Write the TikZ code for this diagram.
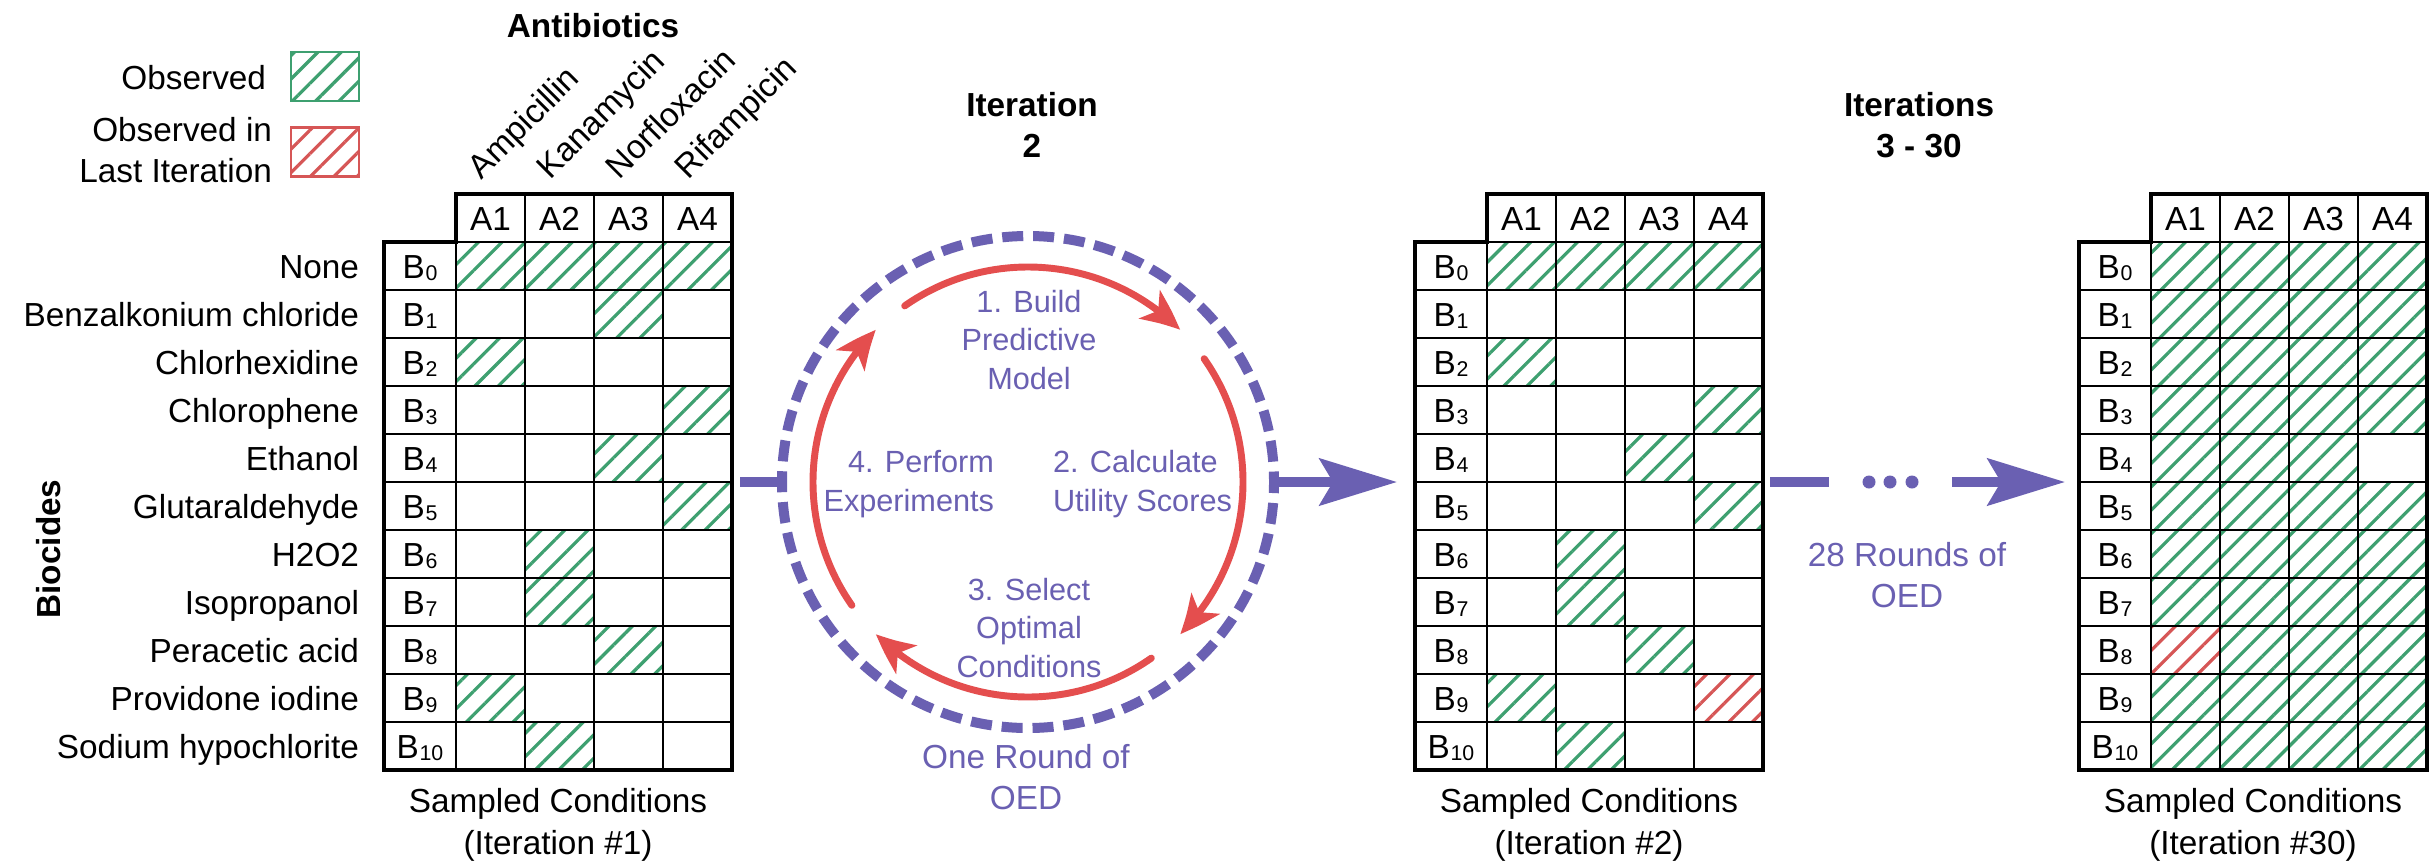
\documentclass[tikz,border=0pt]{standalone}
\usepackage{fontspec}
\setmainfont{Liberation Sans}
\usetikzlibrary{arrows.meta,bending,patterns.meta}

\definecolor{obsgreen}{RGB}{62,160,112}
\definecolor{lastred}{RGB}{214,86,86}
\definecolor{oedpurple}{RGB}{106,96,178}
\definecolor{loopred}{RGB}{228,78,78}

% biocide index: B with a smaller, slightly lowered number
\newcommand\bidx[1]{B\kern0.02em\raisebox{-0.06em}{\fontsize{16}{16}\selectfont #1}}

% one hatched cell: style, grid left x, row, column
\newcommand\hatchcell[4]{\path[#1] ({#2+72+69*(#4-1)},{242+48*(#3)}) rectangle ++(69,48);}

\tikzset{
  every node/.style={inner sep=0pt, outer sep=0pt, font=\fontsize{25}{31}\selectfont},
  title/.style={font=\fontsize{25}{31}\selectfont\bfseries, align=center},
  steptext/.style={font=\fontsize{23}{29}\selectfont, text=oedpurple},
  oedtext/.style={font=\fontsize{25}{31}\selectfont, text=oedpurple, align=center},
  gridinner/.style={line width=2pt},
  gridouter/.style={line width=3.2pt, line join=miter},
  obs/.style={pattern={Lines[angle=45,distance=12.4pt,line width=2.4pt]}, pattern color=obsgreen},
  lastobs/.style={pattern={Lines[angle=45,distance=12.4pt,line width=2.4pt]}, pattern color=lastred},
  looparrow/.style={draw=loopred, line width=5.2pt, line cap=round, -{Stealth[length=30pt,width=26pt,inset=8pt,bend]}},
  purbar/.style={draw=oedpurple, line width=7.5pt},
  purarrow/.style={purbar, -{Stealth[length=58pt,width=35pt,inset=10pt]}},
  purdot/.style={circle, fill=oedpurple, minimum size=9.75pt},
  legbox/.style={minimum width=51pt, minimum height=37pt, line width=1.8pt},
}

% grid of sampled conditions: name prefix, left x
\newcommand\conditiongrid[2]{%
  \begin{scope}[shift={(#2,0)}]
    \foreach \j in {1,2,3} \draw[gridinner] ({72+69*\j},194) -- ({72+69*\j},770);
    \foreach \i in {1,...,10} \draw[gridinner] (0,{242+48*\i}) -- (348,{242+48*\i});
    \draw[gridinner] (72,242) -- (72,770);
    \draw[gridinner] (72,242) -- (348,242);
    \draw[gridouter] (72,194) -- (348,194) -- (348,770) -- (0,770) -- (0,242) -- (72,242) -- cycle;
    \foreach \j in {1,...,4} \node[anchor=base] (#1-a\j) at ({37.5+69*\j},230) {A\j};
    \foreach \i in {0,...,10} \node[anchor=base] (#1-b\i) at (36,{278+48*\i}) {\bidx{\i}};
  \end{scope}}

\begin{document}
\begin{tikzpicture}[x=0.75pt, y=-0.75pt]
\useasboundingbox (0,0) rectangle (2433,861);
\fill[white] (0,0) rectangle (2433,861);

% observed conditions, iteration 1
\foreach \r/\c in {0/1,0/2,0/3,0/4,1/3,2/1,3/4,4/3,5/4,6/2,7/2,8/3,9/1,10/2} {\hatchcell{obs}{384}{\r}{\c}}
% iteration 2
\foreach \r/\c in {0/1,0/2,0/3,0/4,2/1,3/4,4/3,5/4,6/2,7/2,8/3,9/1,10/2} {\hatchcell{obs}{1415}{\r}{\c}}
\hatchcell{lastobs}{1415}{9}{4}
% iteration 30
\foreach \r in {0,1,2,3,5,6,7,9,10} {\foreach \c in {1,...,4} {\hatchcell{obs}{2079}{\r}{\c}}}
\foreach \c in {1,2,3} {\hatchcell{obs}{2079}{4}{\c}}
\foreach \c in {2,3,4} {\hatchcell{obs}{2079}{8}{\c}}
\hatchcell{lastobs}{2079}{8}{1}

\conditiongrid{g1}{384}
\conditiongrid{g2}{1415}
\conditiongrid{g3}{2079}

% axis labels
\node[title, anchor=base] (abx-title) at (593,37) {Antibiotics};
\node[title, rotate=90] (bio-title) at (49,549) {Biocides};
\foreach \t [count=\j] in {Ampicillin,Kanamycin,Norfloxacin,Rifampicin}
  \node[anchor=base west, rotate=45] (abx-\j) at ({412.5+69*\j},180) {\t};
\foreach \t [count=\i from 0] in {None,Benzalkonium chloride,Chlorhexidine,Chlorophene,Ethanol,Glutaraldehyde,H2O2,Isopropanol,Peracetic acid,Providone iodine,Sodium hypochlorite}
  \node[anchor=base east] (bio-\i) at (359,{278+48*\i}) {\t};

% legend
\node[anchor=base east] (leg-obs-text) at (266,89) {Observed};
\node[align=right, anchor=east] (leg-last-text) at (272,150) {Observed in\\Last Iteration};
\node[legbox, draw=obsgreen, obs] (leg-obs) at (325,76.5) {};
\node[legbox, draw=lastred, lastobs] (leg-last) at (325,152) {};

% captions
\node[align=center] (cap-1) at (558,825) {Sampled Conditions\\(Iteration \#1)};
\node[align=center] (cap-2) at (1589,825) {Sampled Conditions\\(Iteration \#2)};
\node[align=center] (cap-3) at (2253,825) {Sampled Conditions\\(Iteration \#30)};
\node[title] (iter-2) at (1032,125) {Iteration\\2};
\node[title] (iter-rest) at (1919,125) {Iterations\\3 - 30};

% one round of OED
\node[circle, draw=oedpurple, line width=7.5pt, dash pattern=on 15.75pt off 7.43pt, dash phase=7.9pt, minimum size=369pt] (oed) at (1028,482) {};
\foreach \a in {-125,-35,55,145}
  \draw[looparrow] ([shift={(\a:215)}]oed.center) arc[start angle=\a, delta angle=80, radius=215];
\node[steptext, align=center] (step-1) at (1029,340) {1. Build\\Predictive\\Model};
\node[steptext, align=left, anchor=west] (step-2) at (1053,484) {2. Calculate\\Utility Scores};
\node[steptext, align=center] (step-3) at (1029,628) {3. Select\\Optimal\\Conditions};
\node[steptext, align=right, anchor=east] (step-4) at (994,484) {4. Perform\\Experiments};
\node[oedtext] (one-round) at (1026,777) {One Round of\\OED};
\node[oedtext] (more-rounds) at (1907,575) {28 Rounds of\\OED};

% connectors
\coordinate (g1-exit) at (740,482);
\coordinate (g2-entry) at (1397,482);
\coordinate (g2-exit) at (1770,482);
\coordinate (gap-l) at (1829,482);
\coordinate (gap-r) at (1952,482);
\coordinate (g3-entry) at (2065,482);
\node[purdot] (dot-1) at (1869,482) {};
\node[purdot] (dot-2) at (1890,482) {};
\node[purdot] (dot-3) at (1912,482) {};
\draw[purbar] (g1-exit) -- (oed.west);
\draw[purarrow] (oed.east) -- (g2-entry);
\draw[purbar] (g2-exit) -- (gap-l);
\draw[purarrow] (gap-r) -- (g3-entry);
\end{tikzpicture}
\end{document}
